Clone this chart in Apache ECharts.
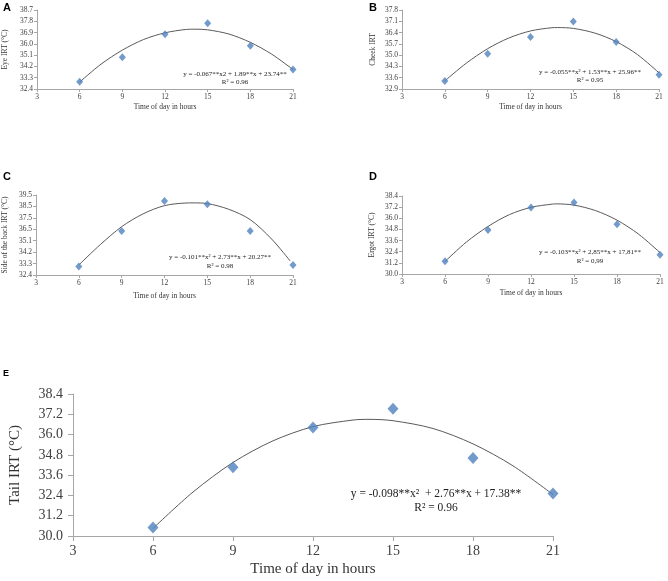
<!DOCTYPE html>
<html>
<head>
<meta charset="utf-8">
<script src="https://cdn.jsdelivr.net/npm/echarts@6/dist/echarts.min.js"></script>
<style>html,body{margin:0;padding:0;background:#fff;}#c{width:668px;height:581px;}</style>
</head>
<body>
<div id="c"></div>
<script>
// ---- data ----
const hours = [6, 9, 12, 15, 18, 21];
const eyeIRT   = [32.98, 34.94, 36.77, 37.64, 35.84, 33.96];
const cheekIRT = [33.39, 35.08, 36.13, 37.08, 35.82, 33.79];
const backIRT  = [33.06, 36.29, 38.97, 38.69, 36.29, 33.19];
const ergotIRT = [31.38, 34.73, 37.17, 37.69, 35.36, 32.08];
const tailIRT  = [30.50, 34.07, 36.42, 37.53, 34.62, 32.52];

// trend curves (each includes its peak)
const eyeFitHours   = [6, 7.5, 9, 10.5, 12, 13.5, 14.1, 15, 16.5, 18, 19.5, 21];
const eyeFit        = [32.95, 34.38, 35.5, 36.35, 36.88, 37.15, 37.17, 37.12, 36.78, 36.12, 35.18, 33.95];
const cheekFitHours = [6, 7.5, 9, 10.5, 12, 13.5, 13.9, 15, 16.5, 18, 19.5, 21];
const cheekFit      = [33.4, 34.5, 35.4, 36.07, 36.5, 36.7, 36.71, 36.66, 36.37, 35.84, 35.03, 33.9];
const backFitHours  = [6, 7.5, 9, 10.5, 12, 13.5, 14.0, 15, 16.5, 18, 19.5, 20.8];
const backFit       = [33.19, 34.79, 36.73, 37.85, 38.57, 38.8, 38.81, 38.75, 38.25, 37.35, 35.31, 33.51];
const ergotFitHours = [6, 7.5, 9, 10.5, 12, 13.5, 13.8, 15, 16.5, 18, 19.5, 21];
const ergotFit      = [31.35, 33.45, 35.12, 36.4, 37.18, 37.53, 37.55, 37.42, 36.83, 35.8, 34.3, 32.3];
const tailFitHours  = [6, 7.5, 9, 10.5, 12, 13.5, 14.1, 15, 16.5, 18, 19.5, 21];
const tailFit       = [30.45, 32.6, 34.35, 35.63, 36.47, 36.86, 36.9, 36.82, 36.36, 35.45, 34.15, 32.45];

// tick labels
const xTicks = [3, 6, 9, 12, 15, 18, 21];
const backTicks = [32.4, 33.3, 34.2, 35.1, 36.5, 37.5, 38.5, 39.5]; // evenly spaced labels on panel C

const panelLetters = ['A', 'B', 'C', 'D', 'E'];
const yTitles = ['Eye IRT (°C)', 'Cheek IRT', 'Side of the back IRT (°C)', 'Ergot IRT (°C)', 'Tail IRT (°C)'];
const xTitle = 'Time of day in hours';
const equations = [
  'y = -0.067**x2 + 1.89**x + 23.74**',
  'y = -0.055**x² + 1.53**x + 25.96**',
  'y = -0.101**x² + 2.73**x + 20.27**',
  'y = -0.103**x² + 2,85**x + 17,81**',
  'y = -0.098**x²  + 2.76**x + 17.38**'
];
const r2 = ['R² = 0.96', 'R² = 0.95', 'R² = 0.98', 'R² = 0,99', 'R² = 0.96'];

// panel C axis: labels are evenly spaced, map values onto label positions
function backPos(v) {
  for (let i = 0; i < backTicks.length - 1; i++) {
    if (v <= backTicks[i + 1] || i === backTicks.length - 2) {
      return i + (v - backTicks[i]) / (backTicks[i + 1] - backTicks[i]);
    }
  }
}

const SERIF = 'Liberation Serif';
const axisGray = '#a6a6a6';
const labelGray = '#404040';
const blue = '#4f81bd';
const curveColor = '#5a5a5a';

const grids = [
  {left: 36, top: 10, width: 257, height: 79},
  {left: 402, top: 10, width: 257, height: 79},
  {left: 36, top: 195, width: 257, height: 80},
  {left: 402, top: 196, width: 258, height: 78},
  {left: 67, top: 394, width: 486, height: 142}
];
const small = {tick: 7.5, title: 7.5, eq: 7, tickLen: 3};
const big = {tick: 14, title: 15, eq: 11.5, tickLen: 5};
const yNameGaps = [28, 25, 27, 26, 50];
const xNameGaps = [14, 14, 17, 15, 26];

const yRanges = [
  {min: 32.4, max: 38.7, interval: 0.9},
  {min: 32.9, max: 37.8, interval: 0.7},
  {min: 0, max: 7, interval: 1},
  {min: 30, max: 38.4, interval: 1.2},
  {min: 30, max: 38.4, interval: 1.2}
];

const xAxes = [], yAxes = [], series = [];
const pts = [eyeIRT, cheekIRT, backIRT, ergotIRT, tailIRT];
const fits = [eyeFit, cheekFit, backFit, ergotFit, tailFit];
const fitHrs = [eyeFitHours, cheekFitHours, backFitHours, ergotFitHours, tailFitHours];

for (let i = 0; i < 5; i++) {
  const s = i === 4 ? big : small;
  xAxes.push({
    type: 'value', gridIndex: i, min: xTicks[0], max: xTicks[xTicks.length - 1], interval: 3,
    name: xTitle, nameLocation: 'middle', nameGap: xNameGaps[i],
    nameTextStyle: {fontFamily: SERIF, fontSize: s.title, color: '#333'},
    axisLine: {show: true, onZero: false, lineStyle: {color: axisGray, width: 1}},
    axisTick: {show: true, length: s.tickLen, lineStyle: {color: axisGray}},
    axisLabel: {fontFamily: SERIF, fontSize: s.tick, color: labelGray, margin: i === 4 ? 8 : 4},
    splitLine: {show: false}
  });
  const yr = yRanges[i];
  yAxes.push({
    type: 'value', gridIndex: i, min: yr.min, max: yr.max, interval: yr.interval,
    name: yTitles[i], nameLocation: 'middle', nameGap: yNameGaps[i],
    nameTextStyle: {fontFamily: SERIF, fontSize: s.title, color: '#333'},
    axisLine: {show: true, lineStyle: {color: axisGray, width: 1}},
    axisTick: {show: true, length: s.tickLen, lineStyle: {color: axisGray}},
    axisLabel: {
      fontFamily: SERIF, fontSize: s.tick, color: labelGray, margin: i === 4 ? 10 : 4,
      formatter: i === 2 ? (v => backTicks[Math.round(v)].toFixed(1)) : (v => v.toFixed(1))
    },
    splitLine: {show: false}
  });
  const conv = i === 2 ? backPos : (v => v);
  series.push({
    type: 'line', xAxisIndex: i, yAxisIndex: i, showSymbol: false, smooth: 0.3,
    lineStyle: {color: curveColor, width: 1}, silent: true, z: 2,
    data: fitHrs[i].map((h, k) => [h, conv(fits[i][k])])
  });
  series.push({
    type: 'scatter', xAxisIndex: i, yAxisIndex: i, symbol: 'diamond',
    symbolSize: i === 4 ? [11, 12] : [7, 8],
    itemStyle: {color: blue}, z: 3,
    data: hours.map((h, k) => [h, conv(pts[i][k])])
  });
}

// annotations
const letterPos = [[3, 8], [369, 8], [3, 177], [369, 177], [3, 374]];
const eqPos = [[235, 74, 82], [590, 72, 80], [220, 257, 266], [590, 252, 261], [436, 494, 508]];
const graphic = [];
for (let i = 0; i < 5; i++) {
  graphic.push({
    type: 'text', x: letterPos[i][0], y: letterPos[i][1],
    style: {text: panelLetters[i], fontFamily: 'Liberation Sans', fontWeight: 'bold',
            fontSize: i === 4 ? 9 : 11, fill: '#000', align: 'left', verticalAlign: 'middle'}
  });
  const fs = i === 4 ? big.eq : small.eq;
  graphic.push({
    type: 'text', x: eqPos[i][0], y: eqPos[i][1],
    style: {text: equations[i], fontFamily: SERIF, fontSize: fs, fill: '#222', align: 'center', verticalAlign: 'middle'}
  });
  graphic.push({
    type: 'text', x: eqPos[i][0], y: eqPos[i][2],
    style: {text: r2[i], fontFamily: SERIF, fontSize: fs, fill: '#222', align: 'center', verticalAlign: 'middle'}
  });
}

const chart = echarts.init(document.getElementById('c'), null, {renderer: 'canvas'});
chart.setOption({
  backgroundColor: '#fff',
  animation: false,
  grid: grids,
  xAxis: xAxes,
  yAxis: yAxes,
  series: series,
  graphic: graphic
});
</script>
</body>
</html>
